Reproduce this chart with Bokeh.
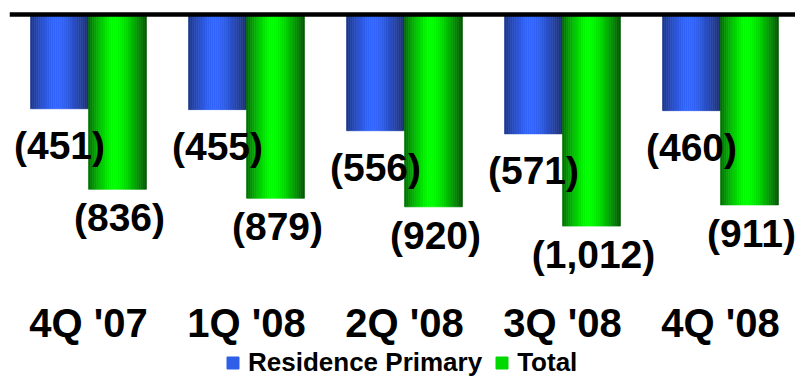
import numpy as np
from bokeh.plotting import figure
from bokeh.models import ColumnDataSource, Span, Legend, LegendItem, Range1d
from bokeh.core.properties import value
from bokeh.embed import file_html
from bokeh.resources import INLINE

quarters = ["4Q '07", "1Q '08", "2Q '08", "3Q '08", "4Q '08"]
residence_primary = [451, 455, 556, 571, 460]
total = [836, 879, 920, 1012, 911]

FONT = value("Liberation Sans")
BAR_W = 0.367
N_STRIPS = 28
PX_PER_UNIT = 0.2091       # vertical scale, pixels per unit
ZERO_PX = 14               # distance of the zero line from the top
PLOT_W, PLOT_H = 795, 378
CAT_BASELINE_PX = 322      # anchor of the quarter labels, from the top

BLUE = dict(mid=(51, 102, 255), left=(26, 52, 135), right=(26, 46, 112))
GREEN = dict(mid=(0, 255, 0), left=(0, 105, 0), right=(0, 85, 0))


def shade(pal, t, peak=0.45):
    if t < peak:
        s, edge = ((peak - t) / peak) ** 1.5, pal["left"]
    else:
        s, edge = ((t - peak) / (1 - peak)) ** 1.5, pal["right"]
    rgb = [int(round(m + (e - m) * s)) for m, e in zip(pal["mid"], edge)]
    return "#%02x%02x%02x" % tuple(rgb)


def strips(values, offset, pal):
    """Split each bar into thin vertical strips to give a cylinder shading."""
    cols = dict(left=[], right=[], top=[], bottom=[], color=[])
    dw = BAR_W / N_STRIPS
    for i, v in enumerate(values):
        x0 = i + offset
        for k in range(N_STRIPS):
            cols["left"].append(x0 + k * dw)
            cols["right"].append(x0 + (k + 1) * dw)
            cols["top"].append(0)
            cols["bottom"].append(-v)
            cols["color"].append(shade(pal, (k + 0.5) / N_STRIPS))
    return ColumnDataSource(cols)


y_top = ZERO_PX / PX_PER_UNIT
y_bottom = y_top - PLOT_H / PX_PER_UNIT
p = figure(width=PLOT_W, height=PLOT_H, output_backend="svg", toolbar_location=None,
           x_range=Range1d(-0.5, -0.5 + (PLOT_W - 9) / 158.0),
           y_range=Range1d(y_bottom, y_top),
           x_axis_location=None, y_axis_location=None,
           min_border_left=9, min_border_right=0, min_border_top=0, min_border_bottom=0)
p.outline_line_color = None
p.xgrid.visible = False
p.ygrid.visible = False
p.background_fill_color = "white"
p.border_fill_color = "white"

src_b = strips(residence_primary, -BAR_W, BLUE)
src_g = strips(total, 0.0, GREEN)
p.quad(left="left", right="right", top="top", bottom="bottom", source=src_b,
       fill_color="color", line_color="color", line_width=0.6)
p.quad(left="left", right="right", top="top", bottom="bottom", source=src_g,
       fill_color="color", line_color="color", line_width=0.6)

p.add_layout(Span(location=0, dimension="width", line_color="black", line_width=4.5))

# value labels under each bar
xs = np.arange(len(quarters))
lab_b = ColumnDataSource(dict(x=xs - BAR_W / 2, y=[-v for v in residence_primary],
                              t=[f"({v:,})" for v in residence_primary]))
lab_g = ColumnDataSource(dict(x=xs + BAR_W / 2, y=[-v for v in total],
                              t=[f"({v:,})" for v in total]))
p.text(x="x", y="y", text="t", source=lab_b, text_font=FONT, text_font_style="bold",
       text_font_size="39px", text_align="center", text_baseline="top",
       y_offset=15, text_color="black")
p.text(x="x", y="y", text="t", source=lab_g, text_font=FONT, text_font_style="bold",
       text_font_size="39px", text_align="center", text_baseline="top",
       x_offset=2, y_offset=7, text_color="black")

# quarter labels along the bottom
cat_y = -(CAT_BASELINE_PX - ZERO_PX) / PX_PER_UNIT
cats = ColumnDataSource(dict(x=xs, y=[cat_y] * len(quarters), t=quarters))
p.text(x="x", y="y", text="t", source=cats, text_font=FONT, text_font_style="bold",
       text_font_size="40px", text_align="center", text_baseline="alphabetic",
       text_color="black")

# legend swatches
sw_b = p.quad(left=[0], right=[0], top=[0], bottom=[0], fill_color="#2f5ee8",
              line_color="#2f5ee8")
sw_g = p.quad(left=[0], right=[0], top=[0], bottom=[0], fill_color="#00d800",
              line_color="#00d800")
legend = Legend(items=[LegendItem(label="Residence Primary", renderers=[sw_b]),
                       LegendItem(label="Total", renderers=[sw_g])],
                orientation="horizontal", location=(216, 0),
                label_text_font="Liberation Sans", label_text_font_style="bold",
                label_text_font_size="26px", label_text_color="black",
                label_text_baseline="middle",
                glyph_width=15, glyph_height=15,
                label_standoff=8, spacing=12, padding=0, margin=0,
                border_line_color=None, background_fill_alpha=0)
p.add_layout(legend)

open("out.html", "w").write(file_html(p, INLINE))
